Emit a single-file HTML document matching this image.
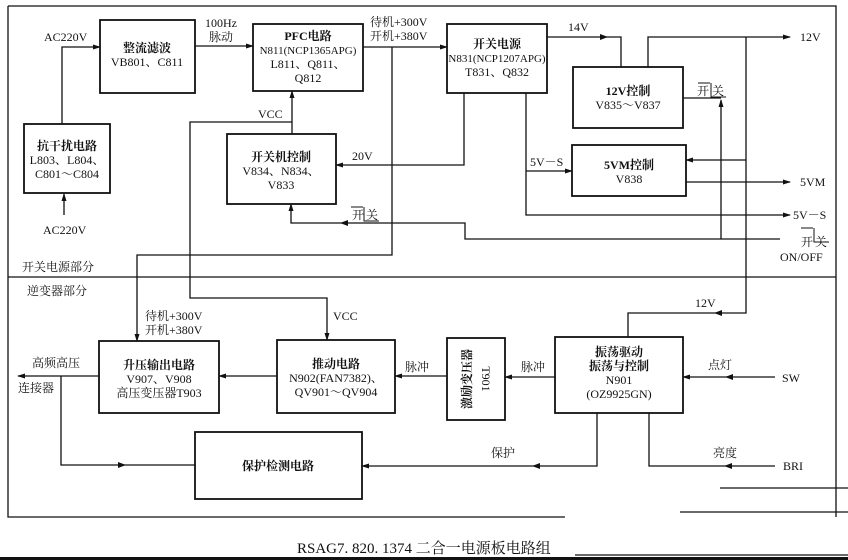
<!DOCTYPE html>
<html><head><meta charset="utf-8"><style>
html,body{margin:0;padding:0;background:#fff;}
svg{display:block;}
text{font-family:"Liberation Serif","Noto Serif CJK SC","Noto Sans CJK SC",serif;font-size:12px;fill:#111;}
.c{text-anchor:middle;}
</style></head><body>
<svg width="848" height="560" viewBox="0 0 848 560" xmlns="http://www.w3.org/2000/svg">
<defs><marker id="a" markerWidth="8" markerHeight="6" refX="7" refY="3" orient="auto" markerUnits="userSpaceOnUse"><path d="M0,0.5 L8,3 L0,5.5 Z" fill="#111"/></marker></defs>
<g fill="none" stroke="#111" stroke-width="1.3">
<path d="M8,6 H836 V517 M8,6 V517 H565 M8,277 H836"/>
<path d="M720,488 H848 M680,512 H848 M575,555 H848"/>
<rect x="100" y="20" width="95" height="73" stroke-width="1.8"/>
<rect x="253" y="24" width="110" height="67" stroke-width="1.8"/>
<rect x="24" y="124" width="86" height="69" stroke-width="1.8"/>
<rect x="227" y="134" width="109" height="70" stroke-width="1.8"/>
<rect x="447" y="24" width="100" height="69" stroke-width="1.8"/>
<rect x="573" y="67" width="110" height="61" stroke-width="1.8"/>
<rect x="572" y="145" width="114" height="51" stroke-width="1.8"/>
<rect x="99" y="341" width="120" height="72" stroke-width="1.8"/>
<rect x="277" y="340" width="118" height="73" stroke-width="1.8"/>
<rect x="447" y="338" width="58" height="82" stroke-width="1.8"/>
<rect x="555" y="337" width="128" height="76" stroke-width="1.8"/>
<rect x="195" y="432" width="167" height="67" stroke-width="1.8"/>
<path d="M62,124 V47 H100" marker-end="url(#a)"/>
<path d="M64,215 V194" marker-end="url(#a)"/>
<path d="M195,46 H253" marker-end="url(#a)"/>
<path d="M363,47 H447" marker-end="url(#a)"/>
<path d="M392,47 V255 H137 V341" marker-end="url(#a)"/>
<path d="M292,134 V91" marker-end="url(#a)"/>
<path d="M292,122 H190 V298 H327 V340" marker-end="url(#a)"/>
<path d="M464,93 V165 H336" marker-end="url(#a)"/>
<path d="M780,239 H465 V223 H291 V204" marker-end="url(#a)"/>
<path d="M721,239 V100" marker-end="url(#a)"/>
<path d="M683,98 H721"/>
<path d="M547,37 H621 V67"/>
<path d="M648,67 V37 H790" marker-end="url(#a)"/>
<path d="M746,37 V313 H628 V337"/>
<path d="M746,160 H686" marker-end="url(#a)"/>
<path d="M526,93 V215 H790" marker-end="url(#a)"/>
<path d="M526,171 H572" marker-end="url(#a)"/>
<path d="M686,182 H790" marker-end="url(#a)"/>
<path d="M99,376 H18" marker-end="url(#a)"/>
<path d="M61,376 V465 H195"/>
<path d="M277,376 H219" marker-end="url(#a)"/>
<path d="M447,376 H395" marker-end="url(#a)"/>
<path d="M555,377 H505" marker-end="url(#a)"/>
<path d="M775,377 H683" marker-end="url(#a)"/>
<path d="M597,413 V466 H362" marker-end="url(#a)"/>
<path d="M775,466 H649 V413"/>
</g>
<g fill="#111">
<path d="M118,462 l8,3 l-8,3z M732,463 l-8,3 l8,3z M540,463 l-8,3 l8,3z M733,374 l-8,3 l8,3z M722,310 l-8,3 l8,3z M348,220 l-8,3 l8,3z M600,34 l8,3 l-8,3z"/>
<rect x="0" y="557" width="848" height="3"/>
</g>
<g stroke="#111" stroke-width="1" fill="none">
<path d="M351,207 H363 M364,207 V221 H379"/>
<path d="M698,83 H710 M711,83 V97 H726"/>
<path d="M801,228 H813 M814,228 V242 H829"/>
</g>
<text class="c" x="147" y="52" font-weight="bold">整流滤波</text>
<text class="c" x="147" y="66">VB801、C811</text>
<text class="c" x="308" y="40" font-weight="bold">PFC电路</text>
<text class="c" x="308" y="54" style="font-size:11px">N811(NCP1365APG)</text>
<text class="c" x="308" y="68">L811、Q811、</text>
<text class="c" x="308" y="82">Q812</text>
<text class="c" x="67" y="150" font-weight="bold">抗干扰电路</text>
<text class="c" x="67" y="164">L803、L804、</text>
<text class="c" x="67" y="178">C801～C804</text>
<text class="c" x="281" y="161" font-weight="bold">开关机控制</text>
<text class="c" x="281" y="175">V834、N834、</text>
<text class="c" x="281" y="189">V833</text>
<text class="c" x="497" y="48" font-weight="bold">开关电源</text>
<text class="c" x="497" y="62" style="font-size:11px">N831(NCP1207APG)</text>
<text class="c" x="497" y="76">T831、Q832</text>
<text class="c" x="628" y="95" font-weight="bold">12V控制</text>
<text class="c" x="628" y="109">V835～V837</text>
<text class="c" x="629" y="169" font-weight="bold">5VM控制</text>
<text class="c" x="629" y="183">V838</text>
<text class="c" x="159" y="369" font-weight="bold">升压输出电路</text>
<text class="c" x="159" y="383">V907、V908</text>
<text class="c" x="159" y="397">高压变压器T903</text>
<text class="c" x="336" y="368" font-weight="bold">推动电路</text>
<text class="c" x="336" y="382">N902(FAN7382)、</text>
<text class="c" x="336" y="396">QV901～QV904</text>
<text class="c" x="0" y="0" transform="translate(471,379) rotate(-90)" font-weight="bold">激励变压器</text>
<text class="c" x="0" y="0" transform="translate(482,379) rotate(90)">T901</text>
<text class="c" x="619" y="356" font-weight="bold">振荡驱动</text>
<text class="c" x="619" y="370" font-weight="bold">振荡与控制</text>
<text class="c" x="619" y="384">N901</text>
<text class="c" x="619" y="398">(OZ9925GN)</text>
<text class="c" x="278" y="470" font-weight="bold">保护检测电路</text>
<text x="44" y="41">AC220V</text>
<text x="43" y="234">AC220V</text>
<text x="205" y="27">100Hz</text>
<text x="209" y="41">脉动</text>
<text x="370" y="26">待机+300V</text>
<text x="370" y="40">开机+380V</text>
<text x="258" y="118">VCC</text>
<text x="352" y="160">20V</text>
<text x="352" y="219">开</text><text x="366" y="219">关</text>
<text x="568" y="31">14V</text>
<text x="800" y="41">12V</text>
<text x="697" y="95">开</text><text x="712" y="95">关</text>
<text x="530" y="166">5V－S</text>
<text x="800" y="186">5VM</text>
<text x="793" y="219">5V－S</text>
<text x="801" y="246">开</text><text x="815" y="246">关</text>
<text x="780" y="261">ON/OFF</text>
<text x="22" y="271">开关电源部分</text>
<text x="27" y="295">逆变器部分</text>
<text x="145" y="320">待机+300V</text>
<text x="145" y="334">开机+380V</text>
<text x="333" y="320">VCC</text>
<text x="32" y="367">高频高压</text>
<text x="18" y="392">连接器</text>
<text x="405" y="371">脉冲</text>
<text x="521" y="371">脉冲</text>
<text x="708" y="369">点灯</text>
<text x="782" y="382">SW</text>
<text x="695" y="307">12V</text>
<text x="491" y="457">保护</text>
<text x="713" y="457">亮度</text>
<text x="783" y="470">BRI</text>
<text x="297" y="553" style="font-size:15px">RSAG7. 820. 1374 二合一电源板电路组</text>
</svg>
</body></html>
